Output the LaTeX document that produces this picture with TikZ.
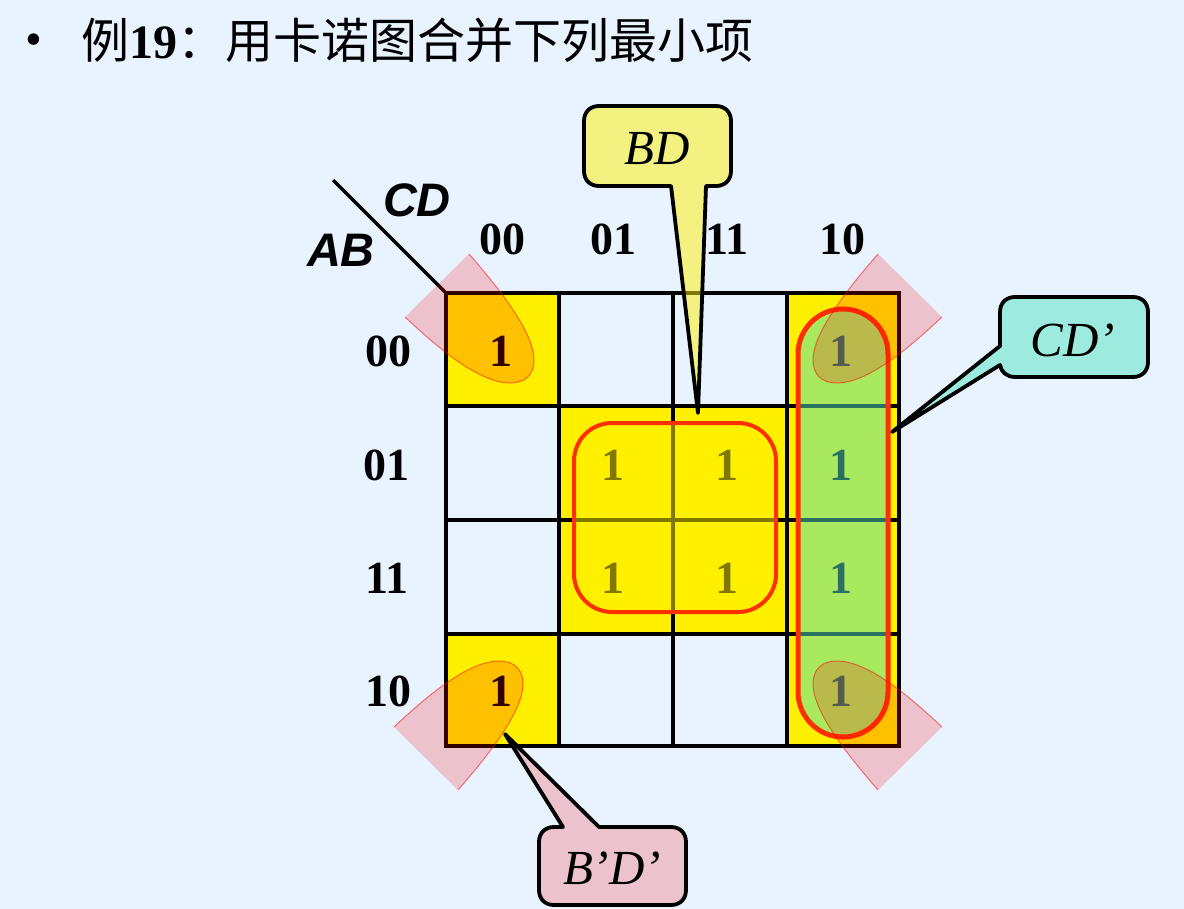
\documentclass[tikz,border=0pt]{standalone}
\usepackage{fontspec}
\setmainfont{Liberation Serif}
\newfontfamily\arialf{Liberation Sans}
\newfontfamily\cjk{Noto Sans CJK SC}
\definecolor{pagebg}{RGB}{232,243,255}
\definecolor{kyellow}{RGB}{255,240,0}
\definecolor{kred}{RGB}{255,48,0}
\definecolor{kteal}{RGB}{84,228,190}
\definecolor{kblob}{RGB}{255,0,0}
\tikzset{
  gridline/.style={draw=black,line width=3.4pt,line cap=rect},
  val/.style={font=\fontsize{46}{50}\selectfont\bfseries,inner sep=0pt},
  axis/.style={font=\arialf\fontsize{47}{50}\selectfont\bfseries\itshape,inner sep=0pt},
  term/.style={font=\fontsize{49}{52}\selectfont\itshape,inner sep=0pt},
  blob/.style={fill=kblob,fill opacity=.2},
  blobedge/.style={draw=kblob,draw opacity=.5,line width=1pt},
  group/.style={draw=kred,rounded corners=#1},
  callout/.style={draw=black,line width=3.8pt,line join=round}
}
\begin{document}
\begin{tikzpicture}[x=1pt,y=-1pt]
\useasboundingbox (0,0) rectangle (1184,909);
\fill[pagebg] (0,0) rectangle (1184,909);
% title
\node[inner sep=0pt,font=\fontsize{48}{50}\selectfont] (bullet) at (34,45) {•};
\node[anchor=west,inner sep=0pt,font=\fontsize{48}{50}\selectfont] (title) at (81,40) {\cjk 例{\rmfamily\bfseries 19}：用卡诺图合并下列最小项};
% cell fills
\fill[kyellow] (446,293) rectangle (559,406);
\fill[kyellow] (446,634) rectangle (559,746);
\fill[kyellow] (559,406) rectangle (787,634);
\fill[kyellow] (787,293) rectangle (899,746);
% grid
\foreach \gx in {446,559,673,787,899} \draw[gridline] (\gx,293) -- (\gx,746);
\foreach \gy in {293,406,520,634,746} \draw[gridline] (446,\gy) -- (899,\gy);
% header
\coordinate (diagA) at (333,180);
\coordinate (diagB) at (446,293);
\draw[line width=3.2pt] (diagA) -- (diagB);
\node[axis] (cd) at (417,200) {CD};
\node[axis] (ab) at (341,250) {AB};
\node[val] (c00) at (502,239) {00};
\node[val] (c01) at (613,239) {01};
\node[val] (c11) at (727,239) {11};
\node[val] (c10) at (842,239) {10};
\node[val] (r00) at (388,351) {00};
\node[val] (r01) at (386,465) {01};
\node[val] (r11) at (387,578) {11};
\node[val] (r10) at (388,691) {10};
% ones
\node[val] (m0) at (501,351) {1};
\node[val] (m2) at (841,351) {1};
\node[val] (m5) at (613,465) {1};
\node[val] (m7) at (727,465) {1};
\node[val] (m6) at (841,465) {1};
\node[val] (m13) at (613,578) {1};
\node[val] (m15) at (727,578) {1};
\node[val] (m14) at (841,578) {1};
\node[val] (m8) at (501,691) {1};
\node[val] (m10) at (841,691) {1};
% groups
\path[fill=kyellow,fill opacity=.5,group=38,line width=4pt] (574,423) rectangle (776,612);
\path[fill=kteal,fill opacity=.5,group=45,line width=5pt] (798,309) rectangle (888,737);
% corner blobs
\foreach \st in {blob,blobedge} {
\path[\st] (469,254) .. controls (505,295) and (534,335) .. (534,360) .. controls (534,375) and (525,383) .. (510,383) .. controls (480,383) and (440,350) .. (405,317);
\path[\st] (878,254) .. controls (842,295) and (813,335) .. (813,360) .. controls (813,375) and (822,383) .. (837,383) .. controls (867,383) and (907,350) .. (942,317);
\path[\st] (458,790) .. controls (494,749) and (523,709) .. (523,684) .. controls (523,669) and (514,661) .. (499,661) .. controls (469,661) and (429,694) .. (394,727);
\path[\st] (878,790) .. controls (842,749) and (813,709) .. (813,684) .. controls (813,669) and (822,661) .. (837,661) .. controls (867,661) and (907,694) .. (942,727);
}
% callouts
\path[callout,fill=kyellow,fill opacity=.5] (706,186) -- (716,186) .. controls (725,186) and (731,180) .. (731,171) -- (731,121) .. controls (731,112) and (725,106) .. (716,106) -- (599,106) .. controls (590,106) and (584,112) .. (584,121) -- (584,171) .. controls (584,180) and (590,186) .. (599,186) -- (671,186) -- (698,413) -- cycle;
\node[term] (bd) at (657,149) {BD};
\path[callout,fill=kteal,fill opacity=.5] (1000,365) .. controls (1001,372) and (1007,377) .. (1015,377) -- (1133,377) .. controls (1142,377) and (1148,371) .. (1148,362) -- (1148,312) .. controls (1148,303) and (1142,297) .. (1133,297) -- (1015,297) .. controls (1006,297) and (1000,303) .. (1000,312) -- (1000,346) -- (892,432) -- cycle;
\node[term] (cdp) at (1073,340) {CD’};
\path[callout,fill=kblob,fill opacity=.2] (599,827) -- (671,827) .. controls (680,827) and (686,833) .. (686,842) -- (686,890) .. controls (686,899) and (680,905) .. (671,905) -- (554,905) .. controls (545,905) and (539,899) .. (539,890) -- (539,842) .. controls (539,833) and (545,827) .. (554,827) -- (563,827) -- (505,734) -- cycle;
\node[term] (bdp) at (612,868) {B’D’};
\end{tikzpicture}
\end{document}
